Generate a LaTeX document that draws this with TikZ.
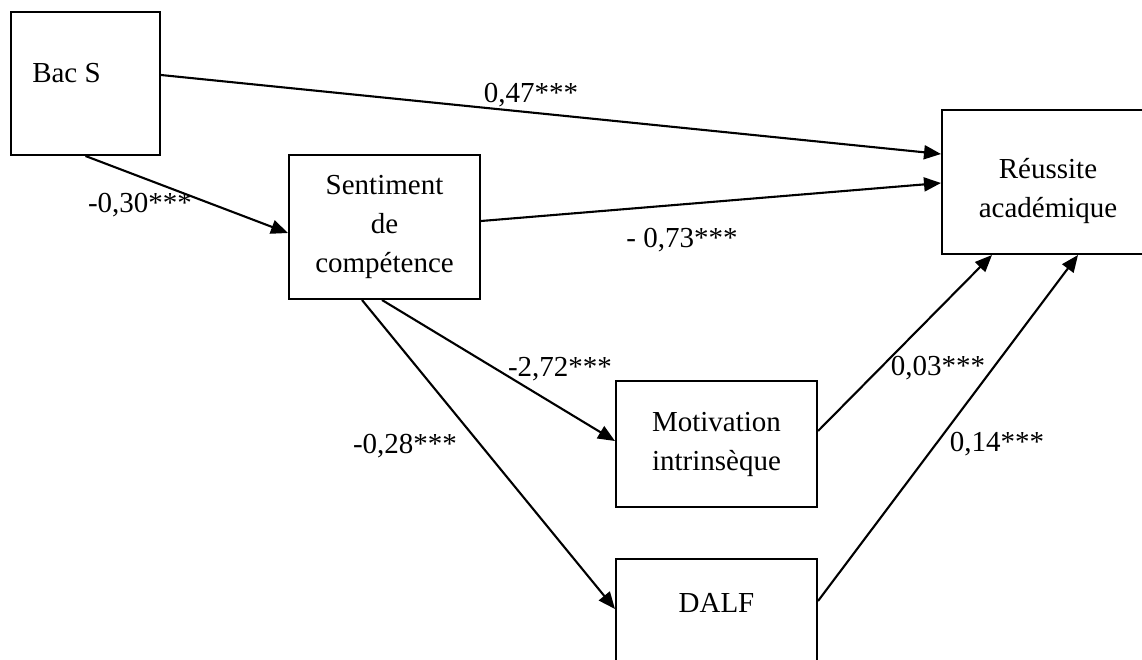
\documentclass[tikz,border=0pt]{standalone}
\usepackage{fontspec}
\setmainfont{Liberation Serif}
\usetikzlibrary{arrows.meta}

\begin{document}
\begin{tikzpicture}[x=1pt,y=-1pt,line width=2.1pt,font=\fontsize{29}{39}\selectfont,
  box/.style={draw,line width=2pt,inner sep=0pt,align=center},
  path/.style={-{Triangle[length=17pt,width=14pt]}}]
  \useasboundingbox (0,0) rectangle (1142,659); \clip (0,0) rectangle (1142,659);
  % boxes
  \node[box,minimum width=149pt,minimum height=143pt] (bac) at (85.5,83.5) {}; \node (bacT) at (66.5,73) {Bac S};
  \node[box,minimum width=191pt,minimum height=144pt] (sent) at (384.5,227) {Sentiment\\de\\compétence};
  \node[box,minimum width=240pt,minimum height=144pt] (reus) at (1062,182) {}; \node[align=center] (reusT) at (1048,191) {Réussite\\académique};
  \node[box,minimum width=201pt,minimum height=126pt] (motiv) at (716.5,444) {Motivation\\intrinsèque};
  \node[box,minimum width=201pt,minimum height=126pt] (dalf) at (716.5,622) {}; \node (dalfT) at (716.5,603) {DALF};
  % paths
  \draw[path] ([yshift=8.5pt]bac.east) -- ([yshift=28pt]reus.west);
  \draw[path] (bac.south) -- ([yshift=-6pt]sent.west);
  \draw[path] ([yshift=6pt]sent.east) -- ([yshift=-1pt]reus.west);
  \draw[path] ([xshift=-2.5pt]sent.south) -- ([yshift=3pt]motiv.west);
  \draw[path] ([xshift=-22.5pt]sent.south) -- ([yshift=13pt]dalf.west);
  \draw[path] ([yshift=13pt]motiv.east) -- ([xshift=51pt]reus.south west);
  \draw[path] ([yshift=21pt]dalf.east) -- ([xshift=137pt]reus.south west);
  % weights
  \node (w047) at (531,95) {0,47***}; \node (w030) at (140,205) {-0,30***};
  \node (w073) at (682,240) {- 0,73***}; \node (w272) at (560,369) {-2,72***};
  \node (w028) at (405,446) {-0,28***}; \node (w003) at (938,368) {0,03***};
  \node (w014) at (997,444) {0,14***};
\end{tikzpicture}
\end{document}
